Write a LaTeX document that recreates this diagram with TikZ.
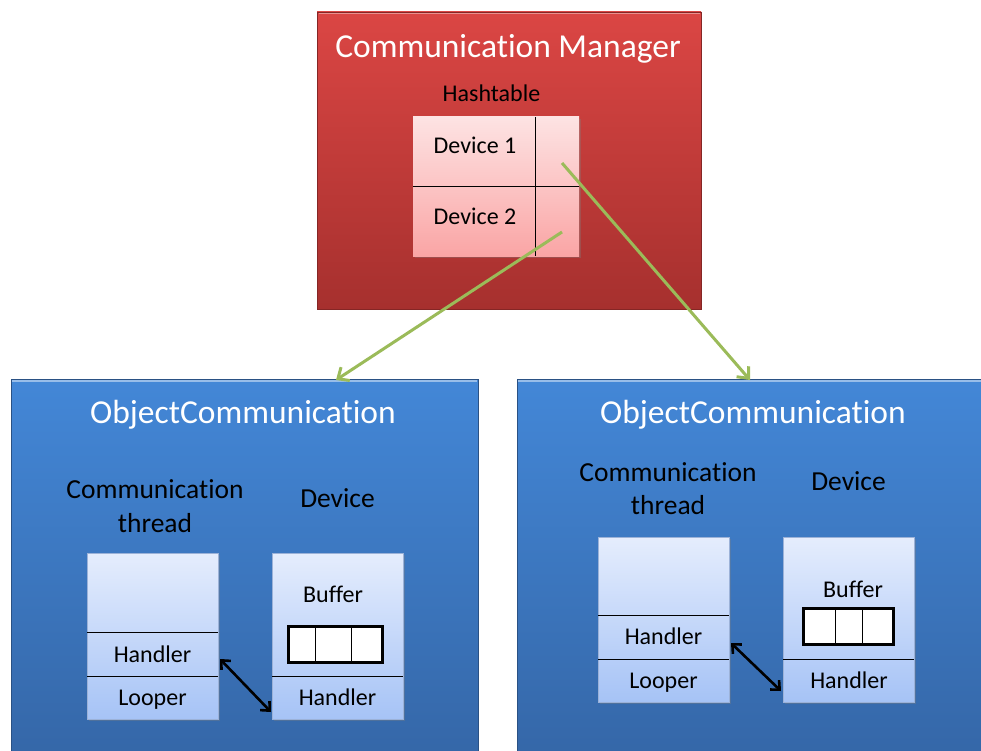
\documentclass[tikz,border=0pt]{standalone}
\usepackage{fontspec}
\setmainfont[RawFeature={-liga;-clig;-dlig;-calt}]{Carlito}
\usetikzlibrary{arrows.meta,shadows}

\definecolor{mgrTop}{RGB}{219,70,68}
\definecolor{mgrBot}{RGB}{166,48,46}
\definecolor{objTop}{RGB}{67,135,215}
\definecolor{objBot}{RGB}{52,101,165}
\definecolor{hashTop}{RGB}{253,227,227}
\definecolor{hashBot}{RGB}{250,165,165}
\definecolor{stackTop}{RGB}{229,237,253}
\definecolor{stackBot}{RGB}{166,195,246}
\definecolor{linkGreen}{RGB}{155,187,89}

\tikzset{
  box/.style={rectangle, inner sep=0pt, outer sep=0pt, anchor=north west},
  mgrbox/.style={box, top color=mgrTop, bottom color=mgrBot, draw=mgrBot!80!black, line width=0.6pt},
  objbox/.style={box, top color=objTop, bottom color=objBot, draw=objBot!80!black, line width=0.6pt},
  hashbox/.style={box, top color=hashTop, bottom color=hashBot,
    drop shadow={shadow xshift=2pt, shadow yshift=-2pt, opacity=0.35}},
  stackbox/.style={box, top color=stackTop, bottom color=stackBot, draw=stackBot!75!gray, line width=0.6pt,
    drop shadow={shadow xshift=2pt, shadow yshift=-2pt, opacity=0.35}},
  bufbox/.style={box, fill=white, draw=black, line width=3pt},
  title/.style={anchor=base, text=white, font=\fontsize{33.5}{40}\selectfont},
  label/.style={anchor=base, text=black, font=\fontsize{27.5}{33}\selectfont},
  cell/.style={anchor=base, text=black, font=\fontsize{24}{29}\selectfont},
  divider/.style={black, line width=0.8pt},
  link/.style={linkGreen, line width=3pt, -{Straight Barb[length=9pt, width=16pt, line width=3pt]}},
  handshake/.style={black, line width=2.6pt, {Straight Barb[length=7pt, width=13pt, line width=2.6pt]}-{Straight Barb[length=7pt, width=13pt, line width=2.6pt]}},
}

\begin{document}
\begin{tikzpicture}[x=1pt, y=-1pt]
\useasboundingbox (0,0) rectangle (981,751);
\clip (0,0) rectangle (981,751);

% ---------- Communication Manager ----------
\node[mgrbox, minimum width=384pt, minimum height=297pt] (mgr) at (317,12) {};
\draw[mgrTop!60!white, line width=1.5pt] (318.5,13.5) -- (699.5,13.5);
\node[title] (mgrT) at (508,58) {Communication Manager};
\node[cell] (hashT) at (491.5,102) {Hashtable};
\node[hashbox, minimum width=166pt, minimum height=139pt] (hash) at (413,117) {};
\draw[divider] (413,186) -- (579,186);
\draw[divider] (535,117) -- (535,256);
\node[cell] (dev1) at (475,154) {Device 1};
\node[cell] (dev2) at (475,224) {Device 2};

% ---------- left ObjectCommunication ----------
\node[objbox, minimum width=467pt, minimum height=400pt] (objL) at (11,379) {};
\draw[objTop!55!white, line width=2pt] (12,380.5) -- (477,380.5);
\node[title] (objLT) at (243,423) {ObjectCommunication};
\node[label] (thrL1) at (155,498) {Communication};
\node[label] (thrL2) at (155,532) {thread};
\node[label] (devL) at (337.5,507) {Device};

\node[stackbox, minimum width=131pt, minimum height=166pt] (stkL) at (87,553) {};
\draw[divider] (87,632) -- (218,632);
\draw[divider] (87,676) -- (218,676);
\node[cell] (hndL) at (152.5,662) {Handler};
\node[cell] (lpL) at (152.5,705) {Looper};

\node[stackbox, minimum width=131pt, minimum height=166pt] (dstkL) at (272,553) {};
\draw[divider] (272,676) -- (403,676);
\node[cell] (bufLT) at (333,602) {Buffer};
\node[bufbox, minimum width=94pt, minimum height=36pt] (bufL) at (288,626) {};
\draw[divider] (315,626) -- (315,662);
\draw[divider] (351,626) -- (351,662);
\node[cell] (dhndL) at (337.5,705) {Handler};

% ---------- right ObjectCommunication ----------
\node[objbox, minimum width=480pt, minimum height=400pt] (objR) at (517,379) {};
\draw[objTop!55!white, line width=2pt] (518,380.5) -- (990,380.5);
\node[title] (objRT) at (753,423) {ObjectCommunication};
\node[label] (thrR1) at (668,481) {Communication};
\node[label] (thrR2) at (668,514) {thread};
\node[label] (devR) at (848.5,490) {Device};

\node[stackbox, minimum width=131pt, minimum height=165pt] (stkR) at (598,537) {};
\draw[divider] (598,615) -- (729,615);
\draw[divider] (598,659) -- (729,659);
\node[cell] (hndR) at (663.5,644) {Handler};
\node[cell] (lpR) at (663.5,688) {Looper};

\node[stackbox, minimum width=131pt, minimum height=165pt] (dstkR) at (783,537) {};
\draw[divider] (783,659) -- (914,659);
\node[cell] (bufRT) at (853,597) {Buffer};
\node[bufbox, minimum width=90pt, minimum height=36pt] (bufR) at (803,608) {};
\draw[divider] (835,608) -- (835,644);
\draw[divider] (862,608) -- (862,644);
\node[cell] (dhndR) at (849,688) {Handler};

% ---------- handler <-> handler links ----------
\coordinate (hsLa) at (220,659);
\coordinate (hsLb) at (271,712);
\draw[handshake] (hsLa) -- (hsLb);
\coordinate (hsRa) at (731,643);
\coordinate (hsRb) at (781,691);
\draw[handshake] (hsRa) -- (hsRb);

% ---------- hashtable entries pointing to the objects ----------
\coordinate (ptr1) at (562,163);
\coordinate (ptr2) at (562,232);
\coordinate (inR) at (750,380);
\coordinate (inL) at (336,380);
\draw[link] (ptr1) -- (inR);
\draw[link] (ptr2) -- (inL);
\end{tikzpicture}
\end{document}
